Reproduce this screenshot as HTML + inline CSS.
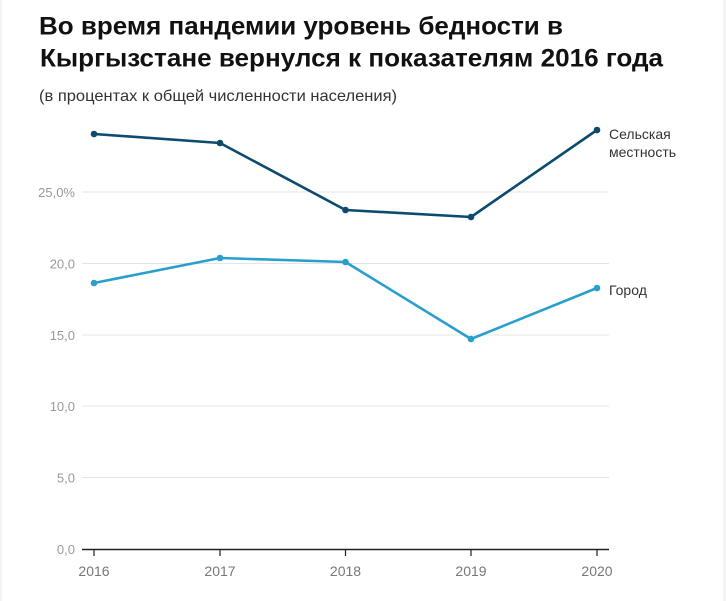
<!DOCTYPE html>
<html>
<head>
<meta charset="utf-8">
<style>
  html, body { margin:0; padding:0; background:#fff; }
  body { width:726px; height:601px; overflow:hidden; }
  svg { display:block; }
  text { font-family: "Liberation Sans", "Noto Sans CJK SC", sans-serif; }
</style>
</head>
<body>
<svg width="726" height="601" viewBox="0 0 726 601" xmlns="http://www.w3.org/2000/svg">
  <rect x="0" y="0" width="726" height="601" fill="#ffffff"/>
  <rect x="0" y="0" width="2" height="601" fill="#f4f4f4"/>
  <rect x="723" y="0" width="3" height="601" fill="#f4f4f4"/>

  <!-- Title -->
  <text x="39" y="34.5" font-size="25" font-weight="bold" fill="#111" textLength="524" lengthAdjust="spacingAndGlyphs">Во время пандемии уровень бедности в</text>
  <text x="40" y="66.5" font-size="25" font-weight="bold" fill="#111" textLength="623" lengthAdjust="spacingAndGlyphs">Кыргызстане вернулся к показателям 2016 года</text>
  <text x="39" y="101" font-size="16" fill="#333" textLength="358" lengthAdjust="spacingAndGlyphs">(в процентах к общей численности населения)</text>

  <!-- Gridlines -->
  <g stroke="#e4e4e4" stroke-width="1">
    <line x1="82" y1="192" x2="609" y2="192"/>
    <line x1="82" y1="263.5" x2="609" y2="263.5"/>
    <line x1="82" y1="335" x2="609" y2="335"/>
    <line x1="82" y1="406" x2="609" y2="406"/>
    <line x1="82" y1="477.5" x2="609" y2="477.5"/>
  </g>

  <!-- Y labels -->
  <g font-size="13" fill="#9a9a9a" text-anchor="end">
    <text x="75" y="197">25,0%</text>
    <text x="75" y="268.5">20,0</text>
    <text x="75" y="340">15,0</text>
    <text x="75" y="411">10,0</text>
    <text x="75" y="482.5">5,0</text>
    <text x="75" y="554">0,0</text>
  </g>

  <!-- X axis -->
  <line x1="82" y1="549.5" x2="609" y2="549.5" stroke="#222" stroke-width="1.5"/>
  <g stroke="#222" stroke-width="1.2">
    <line x1="94" y1="549.5" x2="94" y2="556"/>
    <line x1="220" y1="549.5" x2="220" y2="556"/>
    <line x1="345.5" y1="549.5" x2="345.5" y2="556"/>
    <line x1="471" y1="549.5" x2="471" y2="556"/>
    <line x1="597" y1="549.5" x2="597" y2="556"/>
  </g>
  <g font-size="14" fill="#777" text-anchor="middle">
    <text x="94" y="576">2016</text>
    <text x="220" y="576">2017</text>
    <text x="345.5" y="576">2018</text>
    <text x="471" y="576">2019</text>
    <text x="597" y="576">2020</text>
  </g>

  <!-- Rural series -->
  <polyline points="94,134 220,143 345.5,210 471,217 597,130" fill="none" stroke="#0d4b6e" stroke-width="2.6" stroke-linejoin="round"/>
  <g fill="#0d4b6e">
    <circle cx="94" cy="134" r="3.3"/>
    <circle cx="220" cy="143" r="3.3"/>
    <circle cx="345.5" cy="210" r="3.3"/>
    <circle cx="471" cy="217" r="3.3"/>
    <circle cx="597" cy="130" r="3.3"/>
  </g>

  <!-- Urban series -->
  <polyline points="94,283 220,258 345.5,262 471,339 597,288" fill="none" stroke="#2a9fcc" stroke-width="2.6" stroke-linejoin="round"/>
  <g fill="#2a9fcc">
    <circle cx="94" cy="283" r="3.3"/>
    <circle cx="220" cy="258" r="3.3"/>
    <circle cx="345.5" cy="262" r="3.3"/>
    <circle cx="471" cy="339" r="3.3"/>
    <circle cx="597" cy="288" r="3.3"/>
  </g>

  <!-- Series labels -->
  <g font-size="14" fill="#333">
    <text x="609" y="139">Сельская</text>
    <text x="609" y="157">местность</text>
    <text x="609" y="295">Город</text>
  </g>
</svg>
</body>
</html>
